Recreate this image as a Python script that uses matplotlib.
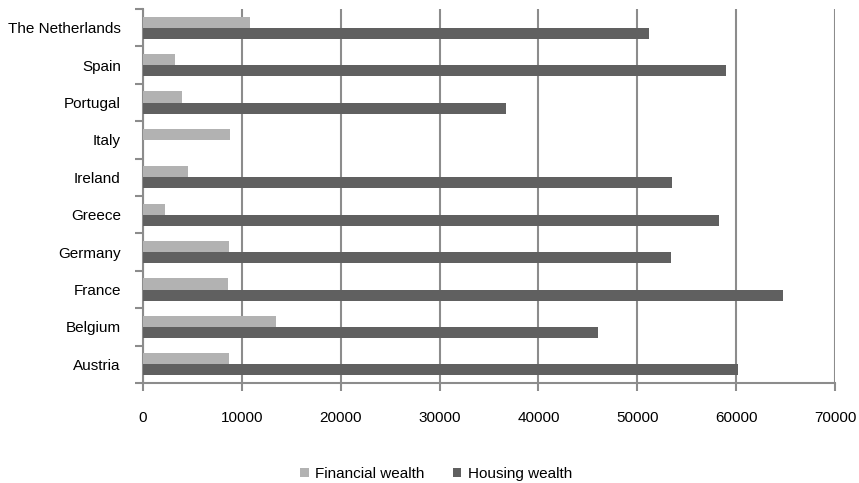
import matplotlib
matplotlib.use("Agg")
import matplotlib.pyplot as plt
import numpy as np
from matplotlib.ticker import FixedLocator, NullFormatter

plt.rcParams['font.family'] = ['Liberation Sans', 'DejaVu Sans']
fs = 11

countries = ["Austria", "Belgium", "France", "Germany", "Greece",
             "Ireland", "Italy", "Portugal", "Spain", "The Netherlands"]
financial_wealth = [8700, 13450, 8600, 8700, 2200, 4550, 8800, 3950, 3250, 10850]
housing_wealth = [60200, 46050, 64750, 53450, 58300, 53550, 0, 36750, 59000, 51200]
x_ticks = [0, 10000, 20000, 30000, 40000, 50000, 60000, 70000]

fin_color = "#b2b2b2"
hou_color = "#606060"
axis_color = "#8c8c8c"

W, H = 859, 483
fig = plt.figure(figsize=(W / 100, H / 100), dpi=100)
ax = fig.add_axes([143 / W, 1 - 383 / H, (835 - 143) / W, (383 - 9) / H])

y = np.arange(len(countries))
bh = 0.295
ax.barh(y + bh / 2, financial_wealth, height=bh, color=fin_color, label="Financial wealth", zorder=3)
ax.barh(y - bh / 2, housing_wealth, height=bh, color=hou_color, label="Housing wealth", zorder=3)

ax.set_xlim(0, 70000)
ax.set_ylim(-0.5, len(countries) - 0.5)
ax.set_xticks(x_ticks)
ax.set_xticklabels([str(v) for v in x_ticks], fontsize=fs)
ax.set_yticks(y)
ax.set_yticklabels(countries, fontsize=fs)
ax.tick_params(axis='y', length=0, pad=16)
ax.tick_params(axis='x', length=6, width=1.5, color=axis_color, pad=14)
ax.yaxis.set_minor_locator(FixedLocator(np.arange(-0.5, len(countries), 1.0)))
ax.yaxis.set_minor_formatter(NullFormatter())
ax.tick_params(axis='y', which='minor', length=6, width=1.5, color=axis_color)

ax.xaxis.grid(True, color=axis_color, linewidth=1.5, zorder=0)
ax.set_axisbelow(True)
for side in ("top", "right"):
    ax.spines[side].set_visible(False)
for side in ("left", "bottom"):
    ax.spines[side].set_color(axis_color)
    ax.spines[side].set_linewidth(1.5)

handles, labels = ax.get_legend_handles_labels()
fig.legend(handles, labels, loc="center", bbox_to_anchor=(436 / W, 1 - 474 / H),
           ncol=2, frameon=False, fontsize=fs, handlelength=0.55, handleheight=0.55,
           handletextpad=0.4, columnspacing=1.9, borderpad=0)

fig.savefig("out.png", dpi=100)
